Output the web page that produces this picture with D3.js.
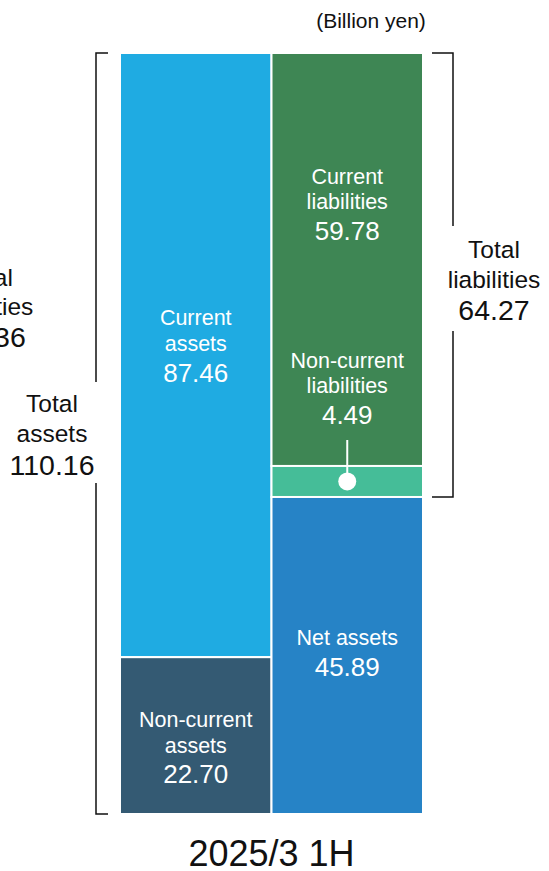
<!DOCTYPE html>
<html>
<head>
<meta charset="utf-8">
<script src="https://cdn.jsdelivr.net/npm/d3@7"></script>
<style>
  body { margin: 0; background: #fff; }
  svg { display: block; font-family: "Liberation Sans", Arial, sans-serif; }
</style>
</head>
<body>
<svg width="549" height="871"></svg>
<script>
var period = "2025/3 1H";
var unitLabel = "(Billion yen)";
var assetNames = [["Current", "assets"], ["Non-current", "assets"]];
var assetValues = [87.46, 22.70];
var liabNames = [["Current", "liabilities"], ["Non-current", "liabilities"], ["Net assets"]];
var liabValues = [59.78, 4.49, 45.89];
var totalAssets = 110.16;
var totalLiabilities = 64.27;
var prevTotalLiabilities = "XX.36"; // previous column, cut off at left edge in source

var assetColors = ["#1fabe2", "#345a73"];
var liabColors = ["#3e8654", "#45bd98", "#2683c6"];

var svg = d3.select("svg"),
    width = +svg.attr("width"),
    height = +svg.attr("height");

var y = d3.scaleLinear().domain([0, totalAssets]).range([53, 814]);
var x = d3.scaleBand().domain(["assets", "liab"]).range([120, 423]).paddingInner(0);

function stack(values) {
    var acc = 0;
    return values.map(function (v, i) {
        var d = { y0: acc, y1: acc + v, value: v, i: i };
        acc += v;
        return d;
    });
}

var assetStack = stack(assetValues);
var liabStack = stack(liabValues);

function drawColumn(key, data, colors) {
    var g = svg.append("g").attr("class", "col-" + key);
    g.selectAll("rect").data(data).enter().append("rect")
        .attr("x", x(key))
        .attr("width", x.bandwidth())
        .attr("y", function (d) { return y(d.y0); })
        .attr("height", function (d) { return y(d.y1) - y(d.y0); })
        .attr("fill", function (d) { return colors[d.i]; })
        .attr("stroke", "#fff")
        .attr("stroke-width", 2);
}
drawColumn("assets", assetStack, assetColors);
drawColumn("liab", liabStack, liabColors);

function label(cx, baselines, lines, sizes, color) {
    var t = svg.append("g");
    lines.forEach(function (s, i) {
        t.append("text")
            .attr("x", cx)
            .attr("y", baselines[i])
            .attr("text-anchor", "middle")
            .attr("font-size", sizes[i])
            .attr("fill", color)
            .text(s);
    });
}

var ax = x("assets") + x.bandwidth() / 2;
var lx = x("liab") + x.bandwidth() / 2;

// inner labels
var inner3 = [21.5, 21.5, 26];
label(ax, [325, 351, 382], assetNames[0].concat([assetValues[0].toFixed(2)]), inner3, "#fff");
label(ax, [727, 753, 783], assetNames[1].concat([assetValues[1].toFixed(2)]), inner3, "#fff");
label(lx, [184, 209, 240], liabNames[0].concat([liabValues[0].toFixed(2)]), inner3, "#fff");
label(lx, [368, 393, 424], liabNames[1].concat([liabValues[1].toFixed(2)]), inner3, "#fff");
label(lx, [645, 676], liabNames[2].concat([liabValues[2].toFixed(2)]), [21.5, 26], "#fff");

// pointer for the thin non-current liabilities segment
var ncMid = (y(liabStack[1].y0) + y(liabStack[1].y1)) / 2;
svg.append("line")
    .attr("x1", lx).attr("x2", lx)
    .attr("y1", 440).attr("y2", ncMid)
    .attr("stroke", "#fff").attr("stroke-width", 2);
svg.append("circle")
    .attr("cx", lx).attr("cy", ncMid).attr("r", 9)
    .attr("fill", "#fff");

// brackets
var bracket = d3.line();
var bl = 96;
svg.append("path")
    .attr("d", bracket([[108, y(0)], [bl, y(0)], [bl, 382]]))
    .attr("fill", "none").attr("stroke", "#111").attr("stroke-width", 1.5);
svg.append("path")
    .attr("d", bracket([[bl, 483], [bl, y(totalAssets)], [108, y(totalAssets)]]))
    .attr("fill", "none").attr("stroke", "#111").attr("stroke-width", 1.5);

var br = 453;
var liabBottom = y(liabStack[1].y1);
svg.append("path")
    .attr("d", bracket([[432, y(0)], [br, y(0)], [br, 226]]))
    .attr("fill", "none").attr("stroke", "#111").attr("stroke-width", 1.5);
svg.append("path")
    .attr("d", bracket([[br, 331], [br, liabBottom], [432, liabBottom]]))
    .attr("fill", "none").attr("stroke", "#111").attr("stroke-width", 1.5);

// bracket labels
var outer3 = [24.5, 24.5, 28.5];
label(52, [412, 442, 475], ["Total", "assets", totalAssets.toFixed(2)], outer3, "#111");
label(494, [258, 288, 320], ["Total", "liabilities", totalLiabilities.toFixed(2)], outer3, "#111");
label(-13, [286, 315, 347], ["Total", "liabilities", prevTotalLiabilities], outer3, "#111");

// unit & period
svg.append("text")
    .attr("x", 371).attr("y", 28)
    .attr("text-anchor", "middle").attr("font-size", 21).attr("fill", "#111")
    .text(unitLabel);
svg.append("text")
    .attr("x", (ax + lx) / 2).attr("y", 866)
    .attr("text-anchor", "middle").attr("font-size", 36).attr("fill", "#111")
    .text(period);
</script>
</body>
</html>
